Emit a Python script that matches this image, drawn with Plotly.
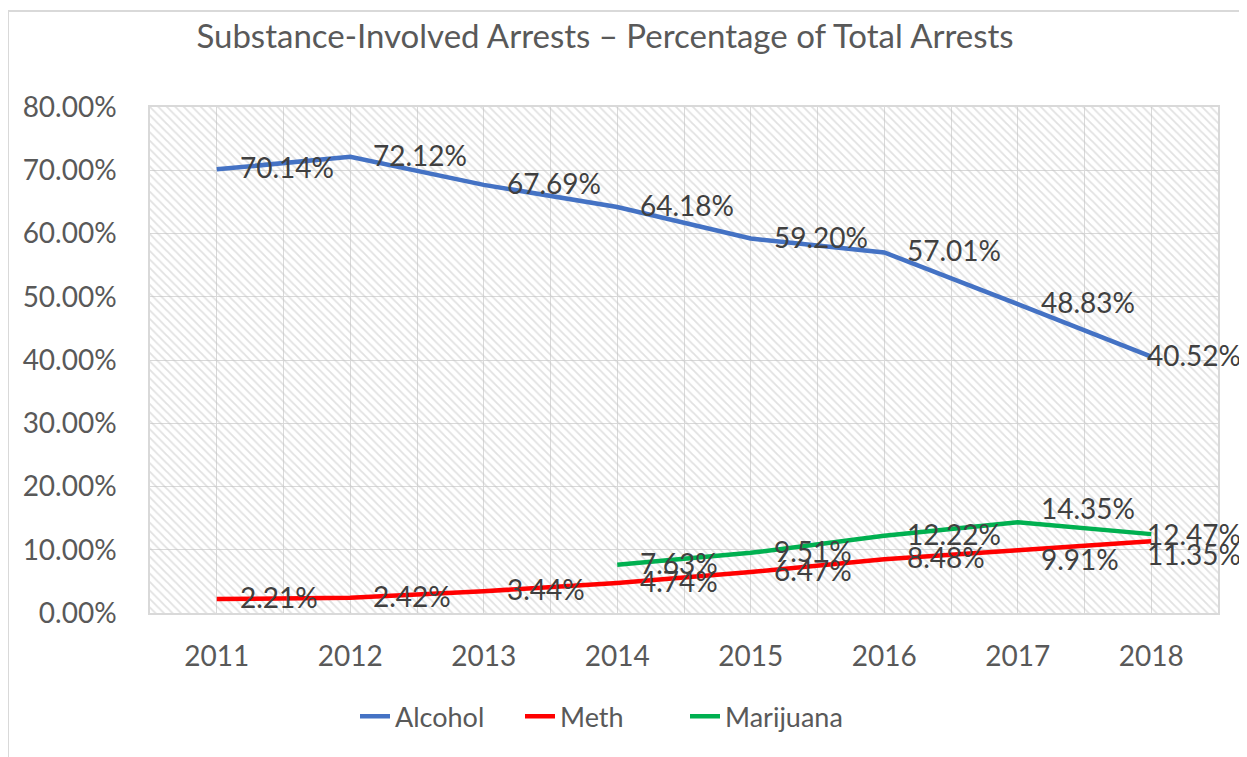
import plotly.graph_objects as go

# ---- data ----
years = [2011, 2012, 2013, 2014, 2015, 2016, 2017, 2018]
alcohol = [70.14, 72.12, 67.69, 64.18, 59.20, 57.01, 48.83, 40.52]
meth = [2.21, 2.42, 3.44, 4.74, 6.47, 8.48, 9.91, 11.35]
marijuana = [None, None, None, 7.63, 9.51, 12.22, 14.35, 12.47]
series_names = ["Alcohol", "Meth", "Marijuana"]
y_ticks = [0, 10, 20, 30, 40, 50, 60, 70, 80]

# ---- styles ----
colors = ["#4472C4", "#FF0000", "#00B050"]
FONT = "Lato"
AXIS_TXT = "#595959"
LABEL_TXT = "#404040"
GRID = "#d9d9d9"
# per-label pixel nudges (xshift, yshift) like Excel's placed labels
label_shift = [
    [(21, 2)] * 7 + [(-6, 2)],
    [(21, 2)] * 6 + [(21, -9), (-6, -13)],
    [(21, 2)] * 6 + [(21, 14), (-6, 0)],
]

all_series = [alcohol, meth, marijuana]

# page body has an 8px margin; shrink the figure so it fits the window
W, H = 1239, 749
PL, PR, PT, PB = 142, 29, 99, 144   # plot area: 1068 x 506

fig = go.Figure()

# hatched plot-area background
x_lo, x_hi = years[0] - 0.5, years[-1] + 0.5
y_lo, y_hi = y_ticks[0], y_ticks[-1]
fig.add_trace(go.Scatter(
    x=[x_lo, x_hi, x_hi, x_lo, x_lo], y=[y_lo, y_lo, y_hi, y_hi, y_lo],
    mode="lines", line=dict(width=0), fill="toself",
    fillcolor="rgba(0,0,0,0)",
    fillpattern=dict(shape="\\", fgcolor="#c4c4c4", bgcolor="rgba(0,0,0,0)",
                     size=6, solidity=0.3),
    hoverinfo="skip", showlegend=False,
))

for name, vals, col in zip(series_names, all_series, colors):
    fig.add_trace(go.Scatter(
        x=years, y=vals, name=name, mode="lines",
        line=dict(color=col, width=4.5),
    ))

annotations = []
for vals, shifts in zip(all_series, label_shift):
    for yr, v, (dx, dy) in zip(years, vals, shifts):
        if v is None:
            continue
        annotations.append(dict(
            x=yr, y=v, xref="x", yref="y", text=f"{v:.2f}%",
            showarrow=False, xanchor="left", yanchor="middle",
            xshift=dx, yshift=dy,
            font=dict(family=FONT, size=28, color=LABEL_TXT),
        ))

plot_w = W - PL - PR
plot_h = H - PT - PB

fig.update_layout(
    width=W, height=H,
    margin=dict(l=PL, r=PR, t=PT, b=PB),
    paper_bgcolor="white", plot_bgcolor="white",
    font=dict(family=FONT, color=AXIS_TXT),
    title=dict(
        text="Substance-Involved Arrests \u2013 Percentage of Total Arrests",
        x=597 / W, xref="container", xanchor="center",
        y=1 - 28 / H, yref="container", yanchor="middle",
        font=dict(family=FONT, size=33, color=AXIS_TXT),
    ),
    xaxis=dict(
        range=[x_lo, x_hi], tickmode="array", tickvals=years,
        ticktext=[str(y) for y in years],
        showgrid=True, gridcolor=GRID, gridwidth=1,
        minor=dict(dtick=0.5, tick0=x_lo, showgrid=True, gridcolor=GRID, gridwidth=1),
        showline=True, linecolor=GRID, linewidth=1.5, mirror=True,
        ticks="", ticklabelstandoff=18, zeroline=False,
        tickfont=dict(family=FONT, size=28, color=AXIS_TXT),
    ),
    yaxis=dict(
        range=[y_lo, y_hi], tickmode="array", tickvals=y_ticks,
        ticktext=[f"{t:.2f}%" for t in y_ticks],
        showgrid=True, gridcolor=GRID, gridwidth=1,
        showline=True, linecolor=GRID, linewidth=1.5, mirror=True,
        ticks="", ticklabelstandoff=26, zeroline=False,
        tickfont=dict(family=FONT, size=28, color=AXIS_TXT),
    ),
    legend=dict(
        orientation="h", x=(347 - PL) / plot_w, xanchor="left",
        y=-0.205, yanchor="middle",
        font=dict(family=FONT, size=27, color=AXIS_TXT),
        entrywidth=120, entrywidthmode="pixels",
        bgcolor="rgba(0,0,0,0)",
    ),
    annotations=annotations,
    shapes=[dict(
        type="rect", xref="paper", yref="paper",
        x0=(0 - PL) / plot_w, x1=(W + 20 - PL) / plot_w,
        y0=-(PB + 20) / plot_h, y1=(plot_h + PT - 3) / plot_h,
        line=dict(color=GRID, width=2), fillcolor="rgba(0,0,0,0)", layer="below",
    )],
)

fig.write_html("out.html")
